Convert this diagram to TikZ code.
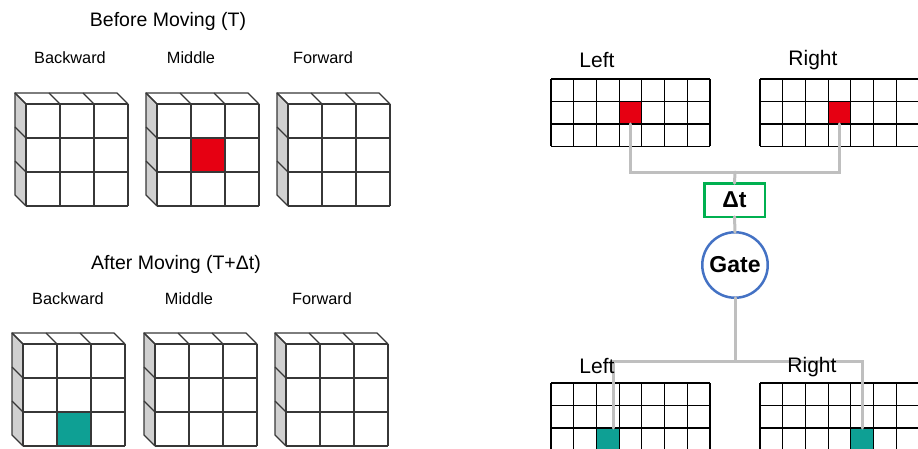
\documentclass[tikz,border=0pt]{standalone}
\usepackage{fontspec}
\setmainfont{Liberation Sans}
\usetikzlibrary{calc,positioning}
\definecolor{rojo}{RGB}{230,0,18}
\definecolor{turquesa}{RGB}{14,160,148}
\definecolor{verdebox}{RGB}{0,176,80}
\definecolor{azulgate}{RGB}{68,114,196}
\definecolor{grisenlace}{RGB}{191,191,191}
\definecolor{grislado}{RGB}{208,208,208}
\definecolor{arista}{RGB}{55,55,55}
\tikzset{
  borde/.style={
    draw=arista,
    line width=1.1pt
  },
  reja/.style={
    draw=black,
    line width=1.2pt
  },
  celda/.style={
    draw=black,
    line width=1.2pt,
    minimum width=22.7pt,
    minimum height=22.5pt,
    inner sep=0pt,
    outer sep=0pt
  },
  retardo/.style={
    draw=verdebox,
    line width=2.5pt,
    minimum width=60.5pt,
    minimum height=33.5pt,
    inner sep=0pt,
    outer sep=0pt,
    font=\fontsize{23}{26}\selectfont\bfseries
  },
  puerta/.style={
    circle,
    draw=azulgate,
    line width=2.5pt,
    minimum size=65.5pt,
    inner sep=0pt,
    outer sep=0pt,
    font=\fontsize{23}{26}\selectfont\bfseries
  },
  enlace/.style={
    draw=grisenlace,
    line width=3pt,
    line cap=round
  },
  titulo/.style={
    inner sep=0pt,
    font=\fontsize{19.5}{23}\selectfont
  },
  etiqueta/.style={
    inner sep=0pt,
    font=\fontsize{16.3}{19}\selectfont
  },
  lado/.style={
    inner sep=0pt,
    font=\fontsize{21}{24}\selectfont
  },
  cubo/.pic={
    \fill[grislado] (0,0) -- (-11,11) -- (-11,-91) -- (0,-102) -- cycle;
    \foreach \k in {0,1,2} {
      \draw[borde] (-11,11-34*\k) -- (0,-34*\k);
      \draw[borde] (34*\k,0) -- (34*\k-11,11);
    }
    \draw[borde] (0,-102) -- (-11,-91) -- (-11,11) -- (91,11) -- (102,0);
    \foreach \k in {0,...,3} {
      \draw[borde] (34*\k,0) -- (34*\k,-102);
      \draw[borde] (0,-34*\k) -- (102,-34*\k);
    }
  },
  rejilla/.pic={
    \foreach \k in {0,...,7}
      \draw[reja] (22.7*\k,0) -- (22.7*\k,-67.5);
    \foreach \k in {0,...,3}
      \draw[reja] (0,-22.5*\k) -- (158.9,-22.5*\k);
  }
}

\begin{document}
\begin{tikzpicture}[x=1pt,y=1pt]
\useasboundingbox (0,0) rectangle (918,448);

% left half: cubes before and after moving
\node[titulo] (antes) at (168,427) {Before Moving (T)};
\node[etiqueta] (bAtras) at (70,390) {Backward};
\node[etiqueta] (bMedio) at (191,390) {Middle};
\node[etiqueta] (bDelante) at (323,390) {Forward};
\fill[rojo] (191,310) rectangle (225,276);
\pic at (26,344) {cubo};
\pic at (157,344) {cubo};
\pic at (288,344) {cubo};

\node[titulo] (despues) at (176,184) {After Moving (T+Δt)};
\node[etiqueta] (aAtras) at (68,149) {Backward};
\node[etiqueta] (aMedio) at (189,149) {Middle};
\node[etiqueta] (aDelante) at (322,149) {Forward};
\fill[turquesa] (57,36) rectangle (91,2);
\pic at (23,104) {cubo};
\pic at (155,104) {cubo};
\pic at (286,104) {cubo};

% right half: grids and gate
\pic at (551,369) {rejilla};
\pic at (760,369) {rejilla};
\pic at (551,65) {rejilla};
\pic at (760,65) {rejilla};
\node[celda,fill=rojo] (rojoI) at (630.45,335.25) {};
\node[celda,fill=rojo] (rojoD) at (839.45,335.25) {};
\node[celda,fill=turquesa] (verdeI) at (607.75,8.75) {};
\node[celda,fill=turquesa] (verdeD) at (862.15,8.75) {};

\node[retardo] (dt) at (734.5,248) {Δt};
\node[puerta] (gate) at (735,183) {Gate};

\coordinate (nudoA) at (735,276);
\coordinate (nudoB) at (735,87);
\draw[enlace] (rojoI.south) |- (nudoA) -| (rojoD.south);
\draw[enlace] (nudoA) -- (dt.north);
\draw[enlace] (dt.south) -- (gate.north);
\draw[enlace] (gate.south) -- (nudoB);
\draw[enlace] (nudoB) -| ($(verdeI.north)+(5.5,0)$);
\draw[enlace] (nudoB) -| (verdeD.north);

\node[lado] (izqA) at (597,388) {Left};
\node[lado] (derA) at (813,388) {Right};
\node[lado] (izqB) at (597,82) {Left};
\node[lado] (derB) at (812,81) {Right};
\end{tikzpicture}
\end{document}
